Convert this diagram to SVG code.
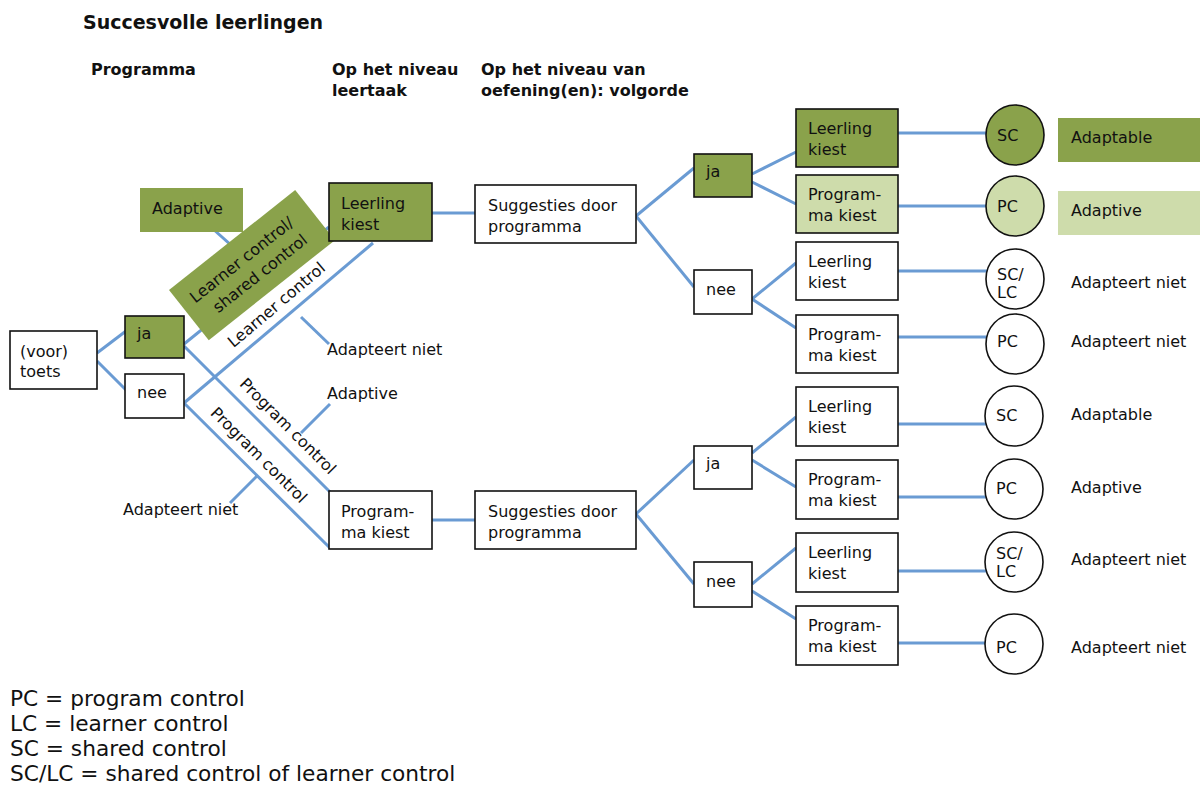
<svg xmlns="http://www.w3.org/2000/svg" width="1200" height="787" viewBox="0 0 1200 787">
<style>
text{font-family:"DejaVu Sans",Verdana,sans-serif;font-size:16px;fill:#111}
.h{font-weight:bold}
.t{font-size:19px;font-weight:bold}
.lg{font-size:21.7px}
.b{fill:#fff;stroke:#111;stroke-width:1.6}
.g{fill:#8aa24b;stroke:#111;stroke-width:1.6}
.lgn{fill:#cedcab;stroke:#111;stroke-width:1.6}
.gf{fill:#8aa24b}
.lf{fill:#cedcab}
#connectors line{stroke:#6a9bd3;stroke-width:3;fill:none}
</style>
<rect width="1200" height="787" fill="#fff"/>
<text class="t" x="83" y="29">Succesvolle leerlingen</text>
<text class="h" x="91" y="75">Programma</text>
<text class="h" x="332" y="75">Op het niveau</text>
<text class="h" x="332" y="96">leertaak</text>
<text class="h" x="481" y="75">Op het niveau van</text>
<text class="h" x="481" y="96">oefening(en): volgorde</text>

<g id="connectors">
<line x1="97" y1="353" x2="126" y2="331"/>
<line x1="97" y1="361" x2="126" y2="390"/>
<line x1="184" y1="344" x2="329" y2="227"/>
<line x1="184" y1="346" x2="330" y2="492"/>
<line x1="184" y1="403" x2="373" y2="243"/>
<line x1="184" y1="403" x2="330" y2="548"/>
<line x1="213" y1="229" x2="250" y2="262"/>
<line x1="301" y1="317" x2="329" y2="344"/>
<line x1="330" y1="404" x2="301" y2="433"/>
<line x1="230" y1="503" x2="257" y2="476"/>
<line x1="432" y1="213" x2="475" y2="213"/>
<line x1="432" y1="520" x2="475" y2="520"/>
<line x1="636" y1="216" x2="694" y2="168"/>
<line x1="636" y1="216" x2="694" y2="287"/>
<line x1="752" y1="174" x2="796" y2="152"/>
<line x1="752" y1="182" x2="796" y2="204"/>
<line x1="752" y1="299" x2="796" y2="263"/>
<line x1="752" y1="299" x2="796" y2="328"/>
<line x1="898" y1="133" x2="986" y2="133"/>
<line x1="898" y1="206" x2="986" y2="206"/>
<line x1="898" y1="271" x2="987" y2="271"/>
<line x1="898" y1="337" x2="987" y2="337"/>
<line x1="636" y1="514" x2="694" y2="460"/>
<line x1="636" y1="514" x2="694" y2="584"/>
<line x1="752" y1="453" x2="796" y2="417"/>
<line x1="752" y1="460" x2="796" y2="487"/>
<line x1="752" y1="584" x2="796" y2="548"/>
<line x1="752" y1="591" x2="796" y2="619"/>
<line x1="898" y1="424" x2="986" y2="424"/>
<line x1="898" y1="497" x2="986" y2="497"/>
<line x1="898" y1="571" x2="986" y2="571"/>
<line x1="898" y1="643" x2="986" y2="643"/>
</g>

<g id="edge-labels">
<text transform="translate(280,309) rotate(-40.2)" text-anchor="middle">Learner control</text>
<text transform="translate(284,430) rotate(45)" text-anchor="middle">Program control</text>
<text transform="translate(255,459) rotate(44.8)" text-anchor="middle">Program control</text>
<text x="327" y="355">Adapteert niet</text>
<text x="327" y="399">Adaptive</text>
<text x="123" y="515">Adapteert niet</text>
</g>

<g id="n-adaptive-left"><rect class="gf" x="140" y="188" width="103" height="44"/><text x="152" y="214">Adaptive</text></g>
<g id="n-lc-sc" transform="translate(169,290) rotate(-38.4)"><rect class="gf" width="161" height="64"/><text x="12" y="27">Learner control/</text><text x="24" y="49">shared control</text></g>

<g id="n-voortoets"><rect class="b" x="10" y="331" width="87" height="58"/><text x="20" y="357">(voor)</text><text x="20" y="377">toets</text></g>
<g id="n-ja1"><rect class="g" x="125" y="316" width="59" height="42"/><text x="137" y="339">ja</text></g>
<g id="n-nee1"><rect class="b" x="125" y="374" width="59" height="44"/><text x="137" y="398">nee</text></g>

<g id="n-lk-mid"><rect class="g" x="329" y="183" width="103" height="58"/><text x="341" y="209">Leerling</text><text x="341" y="230">kiest</text></g>
<g id="n-pk-mid"><rect class="b" x="329" y="491" width="103" height="58"/><text x="341" y="517">Program-</text><text x="341" y="538">ma kiest</text></g>

<g id="n-sug1"><rect class="b" x="475" y="185" width="161" height="58"/><text x="488" y="211">Suggesties door</text><text x="488" y="232">programma</text></g>
<g id="n-sug2"><rect class="b" x="475" y="491" width="161" height="58"/><text x="488" y="517">Suggesties door</text><text x="488" y="538">programma</text></g>

<g id="n-ja2"><rect class="g" x="694" y="154" width="58" height="43"/><text x="706" y="177">ja</text></g>
<g id="n-nee2"><rect class="b" x="694" y="270" width="58" height="44"/><text x="706" y="295">nee</text></g>
<g id="n-ja3"><rect class="b" x="694" y="446" width="58" height="43"/><text x="706" y="469">ja</text></g>
<g id="n-nee3"><rect class="b" x="694" y="562" width="58" height="45"/><text x="706" y="587">nee</text></g>

<g id="n-r1"><rect class="g" x="796" y="109" width="102" height="58"/><text x="808" y="134">Leerling</text><text x="808" y="155">kiest</text></g>
<g id="n-r2"><rect class="lgn" x="796" y="175" width="102" height="58"/><text x="808" y="200">Program-</text><text x="808" y="221">ma kiest</text></g>
<g id="n-r3"><rect class="b" x="796" y="242" width="102" height="58"/><text x="808" y="267">Leerling</text><text x="808" y="288">kiest</text></g>
<g id="n-r4"><rect class="b" x="796" y="315" width="102" height="58"/><text x="808" y="340">Program-</text><text x="808" y="361">ma kiest</text></g>
<g id="n-r5"><rect class="b" x="796" y="387" width="102" height="59"/><text x="808" y="412">Leerling</text><text x="808" y="433">kiest</text></g>
<g id="n-r6"><rect class="b" x="796" y="460" width="102" height="59"/><text x="808" y="485">Program-</text><text x="808" y="506">ma kiest</text></g>
<g id="n-r7"><rect class="b" x="796" y="533" width="102" height="59"/><text x="808" y="558">Leerling</text><text x="808" y="579">kiest</text></g>
<g id="n-r8"><rect class="b" x="796" y="606" width="102" height="59"/><text x="808" y="631">Program-</text><text x="808" y="652">ma kiest</text></g>

<g id="c1"><ellipse class="g" cx="1015" cy="135" rx="29" ry="30"/><text x="997" y="141">SC</text></g>
<g id="c2"><ellipse class="lgn" cx="1015" cy="206" rx="29" ry="30"/><text x="997" y="212">PC</text></g>
<g id="c3"><ellipse class="b" cx="1015" cy="279" rx="29" ry="30"/><text x="997" y="280">SC/</text><text x="997" y="298">LC</text></g>
<g id="c4"><ellipse class="b" cx="1015" cy="344" rx="29" ry="30"/><text x="997" y="347">PC</text></g>
<g id="c5"><ellipse class="b" cx="1014" cy="416" rx="29" ry="30"/><text x="996" y="421">SC</text></g>
<g id="c6"><ellipse class="b" cx="1014" cy="489" rx="29" ry="30"/><text x="996" y="494">PC</text></g>
<g id="c7"><ellipse class="b" cx="1014" cy="562" rx="29" ry="30"/><text x="996" y="559">SC/</text><text x="996" y="577">LC</text></g>
<g id="c8"><ellipse class="b" cx="1014" cy="644" rx="29" ry="30"/><text x="996" y="653">PC</text></g>

<g id="n-out1"><rect class="gf" x="1058" y="118" width="142" height="44"/><text x="1071" y="143">Adaptable</text></g>
<g id="n-out2"><rect class="lf" x="1058" y="191" width="142" height="44"/><text x="1071" y="216">Adaptive</text></g>
<g id="n-out3"><text x="1071" y="288">Adapteert niet</text></g>
<g id="n-out4"><text x="1071" y="347">Adapteert niet</text></g>
<g id="n-out5"><text x="1071" y="420">Adaptable</text></g>
<g id="n-out6"><text x="1071" y="493">Adaptive</text></g>
<g id="n-out7"><text x="1071" y="565">Adapteert niet</text></g>
<g id="n-out8"><text x="1071" y="653">Adapteert niet</text></g>

<g id="legend">
<text class="lg" x="10" y="706">PC = program control</text>
<text class="lg" x="10" y="731">LC = learner control</text>
<text class="lg" x="10" y="756">SC = shared control</text>
<text class="lg" x="10" y="781">SC/LC = shared control of learner control</text>
</g>
</svg>
